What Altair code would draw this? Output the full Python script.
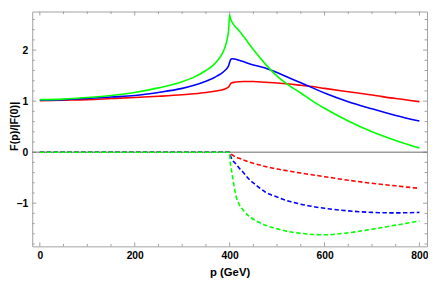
import altair as alt
import pandas as pd

# ---- data ----
p_re = [0, 50, 100, 150, 200, 250, 300, 325, 350, 365, 375, 385, 390, 395, 398, 400,
        402, 405, 410, 420, 430, 450, 475, 500, 525, 550, 575, 600, 650, 700, 750, 800]
red_re = [1.01, 1.02, 1.03, 1.05, 1.07, 1.095, 1.125, 1.145, 1.17, 1.19, 1.205, 1.225, 1.24, 1.26, 1.28, 1.31,
          1.34, 1.36, 1.37, 1.38, 1.385, 1.385, 1.37, 1.355, 1.335, 1.31, 1.285, 1.25, 1.185, 1.12, 1.05, 0.99]
blue_re = [1.02, 1.03, 1.05, 1.08, 1.11, 1.17, 1.25, 1.31, 1.39, 1.45, 1.50, 1.56, 1.60, 1.65, 1.70, 1.76,
           1.81, 1.83, 1.825, 1.80, 1.77, 1.71, 1.65, 1.56, 1.46, 1.36, 1.26, 1.16, 0.99, 0.85, 0.72, 0.61]
green_re = [1.03, 1.04, 1.07, 1.11, 1.17, 1.26, 1.38, 1.47, 1.60, 1.70, 1.80, 1.94, 2.05, 2.22, 2.40, 2.69,
            2.61, 2.55, 2.48, 2.38, 2.26, 2.01, 1.73, 1.49, 1.31, 1.16, 1.00, 0.86, 0.61, 0.40, 0.23, 0.08]

p_im = [0, 400, 401, 403, 405, 407, 410, 414, 420, 428, 440, 455, 475, 500, 525, 550, 600, 650, 700, 750, 800]
red_im = [0, 0, -0.02, -0.04, -0.05, -0.06, -0.08, -0.10, -0.12, -0.15, -0.19, -0.23, -0.28, -0.33, -0.37,
          -0.41, -0.48, -0.55, -0.61, -0.66, -0.71]
blue_im = [0, 0, -0.05, -0.10, -0.14, -0.17, -0.20, -0.24, -0.31, -0.39, -0.52, -0.64, -0.78, -0.88, -0.96,
           -1.02, -1.10, -1.15, -1.18, -1.19, -1.18]
green_im = [0, 0, -0.18, -0.30, -0.42, -0.53, -0.70, -0.88, -1.02, -1.13, -1.25, -1.34, -1.43, -1.50, -1.56,
            -1.59, -1.62, -1.58, -1.51, -1.43, -1.35]

x_major = [0, 200, 400, 600, 800]
x_minor = [50, 100, 150, 250, 300, 350, 450, 500, 550, 650, 700, 750]
y_major = [-1, 0, 1, 2]
y_minor = [-1.8, -1.6, -1.4, -1.2, -0.8, -0.6, -0.4, -0.2, 0.2, 0.4, 0.6, 0.8,
           1.2, 1.4, 1.6, 1.8, 2.2, 2.4, 2.6]

# ---- layout ----
W, H = 402.3, 239.3
X_DOMAIN = [-16, 816]
Y_DOMAIN = [-1.846, 2.756]
FRAME = "#a0a0a0"
FONT = "Liberation Sans"

xs = alt.Scale(domain=X_DOMAIN, nice=False, zero=False)
ys = alt.Scale(domain=Y_DOMAIN, nice=False, zero=False)

ax_x = alt.Axis(values=x_major, ticks=False, tickSize=0, domain=False, grid=False,
                labelFont=FONT, labelFontWeight="bold", labelFontSize=10.5, labelColor="black",
                labelPadding=4, labelFlush=False, title="p (GeV)", titleFont=FONT,
                titleFontWeight="bold", titleFontSize=11.5, titleColor="black", titlePadding=6)
ax_y = alt.Axis(values=y_major, ticks=False, tickSize=0, domain=False, grid=False,
                labelFont=FONT, labelFontWeight="bold", labelFontSize=10.5, labelColor="black",
                labelPadding=4.5, labelFlush=False, title="F(p)/|F(0)|", titleFont=FONT,
                titleFontWeight="bold", titleFontSize=11, titleColor="black",
                titleX=-15.5, titleY=116.5, titleBaseline="alphabetic", titleAngle=270)


def X(field):
    return alt.X(field, type="quantitative", scale=xs, axis=ax_x)


def Y(field):
    return alt.Y(field, type="quantitative", scale=ys, axis=ax_y)


def curve(p, v, color, dashed):
    df = pd.DataFrame({"p": p, "v": v})
    kw = dict(color=color, strokeWidth=1.6, interpolate="monotone", clip=True)
    if dashed:
        kw["strokeDash"] = [4.5, 2.5]
    return alt.Chart(df).mark_line(**kw).encode(x=X("p"), y=Y("v"))


def xticks(vals, length):
    df = pd.DataFrame({"t": vals})
    base = alt.Chart(df).mark_rule(color=FRAME, strokeWidth=1)
    return (base.encode(x=X("t"), y=alt.value(0), y2=alt.value(length)) +
            base.encode(x=X("t"), y=alt.value(H), y2=alt.value(H - length)))


def yticks(vals, length):
    df = pd.DataFrame({"t": vals})
    base = alt.Chart(df).mark_rule(color=FRAME, strokeWidth=1)
    return (base.encode(y=Y("t"), x=alt.value(0), x2=alt.value(length)) +
            base.encode(y=Y("t"), x=alt.value(W), x2=alt.value(W - length)))


zero = alt.Chart(pd.DataFrame({"z": [0]})).mark_rule(color="#666666", strokeWidth=1).encode(y=Y("z"))

chart = alt.layer(
    xticks(x_major, 4), xticks(x_minor, 2.5),
    yticks(y_major, 4), yticks(y_minor, 2.5),
    zero,
    curve(p_re, red_re, "#ff0000", False),
    curve(p_re, blue_re, "#0000ff", False),
    curve(p_re, green_re, "#00ff00", False),
    curve(p_im, red_im, "#ff0000", True),
    curve(p_im, blue_im, "#0000ff", True),
    curve(p_im, green_im, "#00ff00", True),
).properties(
    width=W, height=H,
    autosize=alt.AutoSizeParams(type="none"),
    padding={"left": 24.7, "top": 1, "right": 1, "bottom": 32.7},
    background="white",
).configure_view(stroke=FRAME, strokeWidth=1)

chart.save("out.html", embed_options={"renderer": "svg", "actions": False})
